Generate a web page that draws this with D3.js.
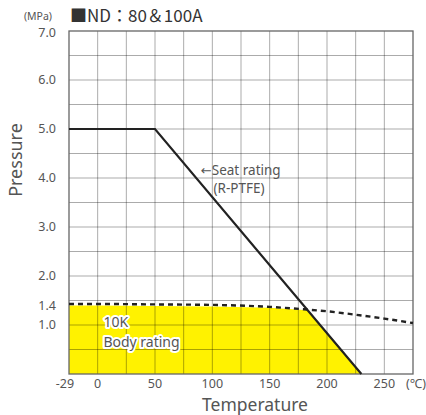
<!DOCTYPE html>
<html>
<head>
<meta charset="utf-8">
<script src="https://cdn.jsdelivr.net/npm/d3@7"></script>
<style>
  body { margin: 0; background: #fff; }
  text { font-family: "Noto Sans", "Open Sans", sans-serif; fill: #555; }
</style>
</head>
<body>
<div id="chart"></div>
<script>
var margin = { top: 31, right: 13, bottom: 41, left: 69 },
    width = 426 - margin.left - margin.right,
    height = 415 - margin.top - margin.bottom;

// tick labels
var xTicks = [0, 50, 100, 150, 200, 250];
var yTicks = [1.0, 1.4, 2.0, 3.0, 4.0, 5.0, 6.0, 7.0];

// seat rating (R-PTFE)
var seatTemp = [-29, 50, 230];
var seatPress = [5.0, 5.0, 0];

// 10K body rating
var bodyTemp = [-29, 0, 50, 100, 150, 180, 200, 225, 250, 275];
var bodyPress = [1.43, 1.43, 1.42, 1.41, 1.37, 1.32, 1.28, 1.21, 1.13, 1.04];

// yellow area: usable region under both ratings
var areaTemp = [-29, 0, 50, 100, 150, 170, 183, 230];
var areaPress = [1.40, 1.40, 1.39, 1.38, 1.35, 1.32, 1.30, 0];

var seat = seatTemp.map(function (t, i) { return { t: t, p: seatPress[i] }; });
var body = bodyTemp.map(function (t, i) { return { t: t, p: bodyPress[i] }; });
var area = areaTemp.map(function (t, i) { return { t: t, p: areaPress[i] }; });

var svg = d3.select("#chart")
    .append("svg")
    .attr("width", 426)
    .attr("height", 415);

var g = svg.append("g")
    .attr("transform", "translate(" + margin.left + "," + margin.top + ")");

// the left edge is drawn at -25 on the grid but labelled -29
var x = d3.scaleLinear().domain([-25, 275]).range([0, width]).clamp(true);
var y = d3.scaleLinear().domain([0, 7]).range([height, 0]);

g.append("path")
    .datum(area)
    .attr("fill", "#fff200")
    .attr("d", d3.area()
        .x(function (d) { return x(d.t); })
        .y0(height)
        .y1(function (d) { return y(d.p); }));

// grid every 25 deg / 0.5 MPa
var grid = g.append("g").attr("stroke", "rgba(0,0,0,0.33)").attr("stroke-width", 1);
grid.selectAll(".vx")
    .data(d3.range(0, 275, 25))
    .enter().append("line")
    .attr("x1", function (d) { return x(d); })
    .attr("x2", function (d) { return x(d); })
    .attr("y1", 0).attr("y2", height);
grid.selectAll(".hy")
    .data(d3.range(0.5, 7, 0.5))
    .enter().append("line")
    .attr("x1", 0).attr("x2", width)
    .attr("y1", function (d) { return y(d); })
    .attr("y2", function (d) { return y(d); });

g.append("rect")
    .attr("width", width).attr("height", height)
    .attr("fill", "none")
    .attr("stroke", "#666").attr("stroke-width", 1.3);

g.append("path")
    .datum(body)
    .attr("fill", "none")
    .attr("stroke", "#222")
    .attr("stroke-width", 2.4)
    .attr("stroke-dasharray", "5,4")
    .attr("d", d3.line().curve(d3.curveMonotoneX)
        .x(function (d) { return x(d.t); })
        .y(function (d) { return y(d.p); }));

g.append("path")
    .datum(seat)
    .attr("fill", "none")
    .attr("stroke", "#222")
    .attr("stroke-width", 2.2)
    .attr("d", d3.line()
        .x(function (d) { return x(d.t); })
        .y(function (d) { return y(d.p); }));

// axis labels
g.selectAll(".xl")
    .data(xTicks)
    .enter().append("text")
    .attr("x", function (d) { return x(d); })
    .attr("y", height + 14)
    .attr("text-anchor", "middle")
    .style("font-size", "12.5px")
    .text(function (d) { return d; });
g.append("text")
    .attr("x", -4).attr("y", height + 14)
    .attr("text-anchor", "middle")
    .style("font-size", "12.5px")
    .text("-29");
g.append("text")
    .attr("x", width + 3).attr("y", height + 14)
    .attr("text-anchor", "middle")
    .style("font-size", "12.5px")
    .text("(℃)");

g.selectAll(".yl")
    .data(yTicks)
    .enter().append("text")
    .attr("x", -13)
    .attr("y", function (d) { return y(d); })
    .attr("dy", function (d) { return d === 7 ? "0.45em" : "0.35em"; })
    .attr("text-anchor", "end")
    .style("font-size", "12.5px")
    .text(function (d) { return d.toFixed(1); });

svg.append("text")
    .attr("x", 52).attr("y", 20)
    .attr("text-anchor", "end")
    .style("font-size", "10.5px")
    .text("(MPa)");

svg.append("text")
    .attr("x", 70).attr("y", 22)
    .style("font-family", "'Noto Sans CJK JP', sans-serif")
    .style("font-size", "17px")
    .style("fill", "#333")
    .text("■ND：80＆100A");

svg.append("text")
    .attr("transform", "translate(22,160) rotate(-90)")
    .attr("text-anchor", "middle")
    .style("font-size", "18px")
    .text("Pressure");

svg.append("text")
    .attr("x", 255).attr("y", 411)
    .attr("text-anchor", "middle")
    .style("font-size", "17.5px")
    .text("Temperature");

// annotations
var seatNote = g.append("text")
    .attr("x", x(90)).attr("y", y(4.0) - 3)
    .style("font-size", "13.5px");
seatNote.append("tspan")
    .style("font-family", "'DejaVu Sans', sans-serif")
    .style("font-size", "13px")
    .text("←");
seatNote.append("tspan").text("Seat rating");
g.append("text")
    .attr("x", x(101)).attr("y", y(4.0) + 15)
    .style("font-size", "13.5px")
    .text("(R-PTFE)");

g.selectAll(".body")
    .data(["10K", "Body rating"])
    .enter().append("text")
    .attr("x", x(5))
    .attr("y", function (d, i) { return y(0.95) + i * 20; })
    .style("font-size", "14px")
    .style("stroke", "#fff")
    .style("stroke-width", 4)
    .style("paint-order", "stroke")
    .style("stroke-linejoin", "round")
    .text(function (d) { return d; });
</script>
</body>
</html>
